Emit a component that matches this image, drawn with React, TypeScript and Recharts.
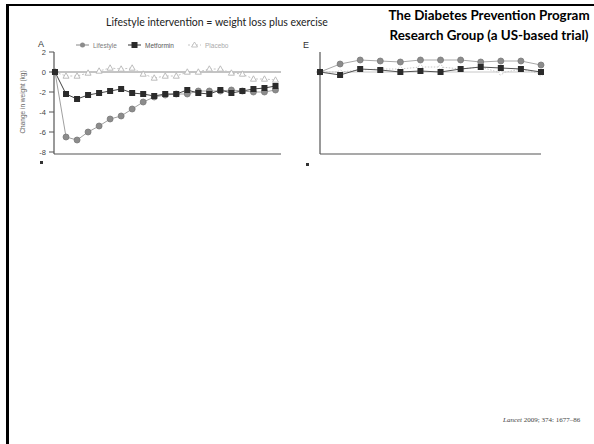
import React from 'react';
import { LineChart, Line, XAxis, YAxis, ReferenceLine } from 'recharts';

// panel A: change in weight (kg), every half year
const yearsA = [0, 0.5, 1, 1.5, 2, 2.5, 3, 3.5, 4, 4.5, 5, 5.5, 6, 6.5, 7, 7.5, 8, 8.5, 9, 9.5, 10];
const lifestyleA = [0, -6.5, -6.8, -6.0, -5.4, -4.7, -4.4, -3.7, -3.0, -2.5, -2.3, -2.2, -2.2, -1.9, -1.9, -1.9, -1.8, -1.9, -2.0, -2.0, -1.8];
const metforminA = [0, -2.2, -2.7, -2.3, -2.1, -1.9, -1.7, -2.1, -2.2, -2.4, -2.2, -2.2, -1.8, -2.1, -2.2, -1.8, -2.1, -1.9, -1.7, -1.6, -1.4];
const placeboA = [0, -0.4, -0.4, -0.1, 0.1, 0.4, 0.3, 0.4, -0.2, -0.6, -0.4, -0.4, 0, 0, 0.3, 0.3, -0.1, -0.2, -0.7, -0.7, -0.8];

// panel E: yearly points
const yearsE = [0, 1, 2, 3, 4, 5, 6, 7, 8, 9, 10, 11];
const lifestyleE = [0, 0.8, 1.2, 1.1, 1.0, 1.2, 1.2, 1.2, 1.0, 1.1, 1.1, 0.7];
const metforminE = [0, -0.3, 0.3, 0.2, 0, 0.1, 0, 0.3, 0.5, 0.4, 0.3, 0];
const placeboE = [0, 0, 0.2, 0.3, 0.3, 0.5, 0.5, 0.3, 0.5, -0.1, 0.3, -0.2];

const yTicks = [2, 0, -2, -4, -6, -8];
const xTicksA = [0, 1, 2, 3, 4, 5, 6, 7, 8, 9, 10];
const seriesNames = ['Lifestyle', 'Metformin', 'Placebo'];

const dataA = yearsA.map((year, i) => ({
  year,
  Lifestyle: lifestyleA[i],
  Metformin: metforminA[i],
  Placebo: placeboA[i],
}));

const dataE = yearsE.map((year, i) => ({
  year,
  Lifestyle: lifestyleE[i],
  Metformin: metforminE[i],
  Placebo: placeboE[i],
}));

const circleDot = (props: any) => (
  <circle key={`c-${props.index}`} cx={props.cx} cy={props.cy} r={3} fill="#8c8c8c" stroke="#7a7a7a" strokeWidth={0.8} />
);
const squareDot = (props: any) => (
  <rect key={`s-${props.index}`} x={props.cx - 3} y={props.cy - 3} width={6} height={6} fill="#2b2b2b" />
);
const triangleDot = (props: any) => (
  <path
    key={`t-${props.index}`}
    d={`M${props.cx},${props.cy - 3.2} L${props.cx + 3},${props.cy + 2.2} L${props.cx - 3},${props.cy + 2.2} Z`}
    fill="#fff"
    stroke="#b5b5b5"
    strokeWidth={0.9}
  />
);

const LegendA = () => {
  const items = [
    { name: seriesNames[0], x: 0, text: '#7d7d7d' },
    { name: seriesNames[1], x: 52, text: '#555' },
    { name: seriesNames[2], x: 112, text: '#aaa' },
  ];
  return (
    <svg width={170} height={12} style={{ position: 'absolute', left: 76, top: 39 }}>
      {items.map((it, i) => (
        <g key={it.name} transform={`translate(${it.x},6)`}>
          <line x1={0} x2={13} y1={0} y2={0} stroke={i === 0 ? '#888' : i === 1 ? '#333' : '#c4c4c4'} strokeWidth={1} strokeDasharray={i === 2 ? '2 2' : undefined} />
          {i === 0 && <circle cx={6.5} cy={0} r={2.5} fill="#8c8c8c" />}
          {i === 1 && <rect x={3.5} y={-3} width={6} height={6} fill="#2b2b2b" />}
          {i === 2 && <path d="M6.5,-3 L9.5,2 L3.5,2 Z" fill="#fff" stroke="#b5b5b5" strokeWidth={0.8} />}
          <text x={17} y={2.5} fontSize={6.5} fill={it.text} fontFamily="'Liberation Sans', Arial, sans-serif">
            {it.name}
          </text>
        </g>
      ))}
    </svg>
  );
};

const tickStyle = { fill: '#444', fontSize: 7.5, fontFamily: "'Liberation Sans', Arial, sans-serif" };

export default function App() {
  return (
    <div style={{ position: 'absolute', left: 0, top: 0, width: 594, height: 444, background: '#fff', overflow: 'hidden' }}>
      {/* slide frame */}
      <div style={{ position: 'absolute', left: 6, top: 4, width: 600, height: 500, borderTop: '2.5px solid #000', borderLeft: '3px solid #000' }} />

      <div style={{ position: 'absolute', left: 106, top: 16, width: 222, fontFamily: 'Lato, sans-serif', fontSize: 10.5, color: '#222', whiteSpace: 'nowrap' }}>
        Lifestyle intervention = weight loss plus exercise
      </div>
      <div style={{ position: 'absolute', left: 380, top: 5, width: 218, textAlign: 'center', fontFamily: 'Lato, sans-serif', fontWeight: 700, fontSize: 13.4, lineHeight: '20px', color: '#000', whiteSpace: 'nowrap' }}>
        The Diabetes Prevention Program
        <br />
        Research Group (a US-based trial)
      </div>

      <div style={{ position: 'absolute', left: 38, top: 39, fontFamily: "'Liberation Sans', sans-serif", fontSize: 9, color: '#333' }}>A</div>
      <div style={{ position: 'absolute', left: 303, top: 40, fontFamily: "'Liberation Sans', sans-serif", fontSize: 9, color: '#333' }}>E</div>

      <div style={{ position: 'absolute', left: 22, top: 102, transform: 'translate(-50%, -50%) rotate(-90deg)', fontFamily: "'Liberation Sans', sans-serif", fontSize: 6.5, color: '#666', whiteSpace: 'nowrap' }}>
        Change in weight (kg)
      </div>

      <div style={{ position: 'absolute', left: 40, top: 161, width: 3, height: 3, background: '#333' }} />
      <div style={{ position: 'absolute', left: 306, top: 163, width: 3, height: 3, background: '#333' }} />

      <LegendA />

      <div style={{ position: 'absolute', left: 0, top: 0 }}>
        <LineChart width={300} height={175} data={dataA} margin={{ top: 52, right: 19, left: 0, bottom: 0 }}>
          <XAxis
            dataKey="year"
            type="number"
            domain={[0, 10.25]}
            ticks={xTicksA}
            tick={false}
            tickSize={5}
            height={21}
            padding={{ left: 1 }}
            axisLine={{ stroke: '#555', strokeWidth: 1.2 }}
            tickLine={{ stroke: '#555' }}
          />
          <YAxis
            type="number"
            domain={[-8.2, 2]}
            ticks={yTicks}
            width={54}
            tickSize={5}
            tickMargin={3}
            tick={tickStyle}
            axisLine={{ stroke: '#555', strokeWidth: 1.2 }}
            tickLine={{ stroke: '#555' }}
          />
          <ReferenceLine y={0} stroke="#8a8a8a" strokeWidth={1} />
          <Line dataKey="Placebo" stroke="#c4c4c4" strokeWidth={1} strokeDasharray="2 2" dot={triangleDot} isAnimationActive={false} />
          <Line dataKey="Lifestyle" stroke="#a0a0a0" strokeWidth={1} dot={circleDot} isAnimationActive={false} />
          <Line dataKey="Metformin" stroke="#444" strokeWidth={1} dot={squareDot} isAnimationActive={false} />
        </LineChart>
      </div>

      <div style={{ position: 'absolute', left: 300, top: 0 }}>
        <LineChart width={260} height={175} data={dataE} margin={{ top: 52, right: 19, left: 0, bottom: 0 }}>
          <XAxis
            dataKey="year"
            type="number"
            domain={[0, 11]}
            ticks={yearsE}
            tick={false}
            tickSize={5}
            height={21}
            axisLine={{ stroke: '#555', strokeWidth: 1.2 }}
            tickLine={{ stroke: '#555' }}
          />
          <YAxis
            type="number"
            domain={[-8.2, 2]}
            ticks={yTicks}
            width={20}
            tickSize={5}
            tick={false}
            axisLine={{ stroke: '#555', strokeWidth: 1.2 }}
            tickLine={{ stroke: '#555' }}
          />
          <ReferenceLine y={0} stroke="#c8c8c8" strokeWidth={1} />
          <Line dataKey="Placebo" stroke="#c8c8c8" strokeWidth={1} strokeDasharray="1.5 1.5" dot={{ r: 2, fill: '#fff', stroke: '#c0c0c0', strokeWidth: 0.8 }} isAnimationActive={false} />
          <Line dataKey="Lifestyle" stroke="#a8a8a8" strokeWidth={1} dot={circleDot} isAnimationActive={false} />
          <Line dataKey="Metformin" stroke="#555" strokeWidth={1} dot={squareDot} isAnimationActive={false} />
        </LineChart>
      </div>

      <div style={{ position: 'absolute', left: 503, top: 416, fontFamily: "'Liberation Serif', serif", fontSize: 7, color: '#444', whiteSpace: 'nowrap' }}>
        <i>Lancet</i> 2009; 374: 1677–86
      </div>
    </div>
  );
}
